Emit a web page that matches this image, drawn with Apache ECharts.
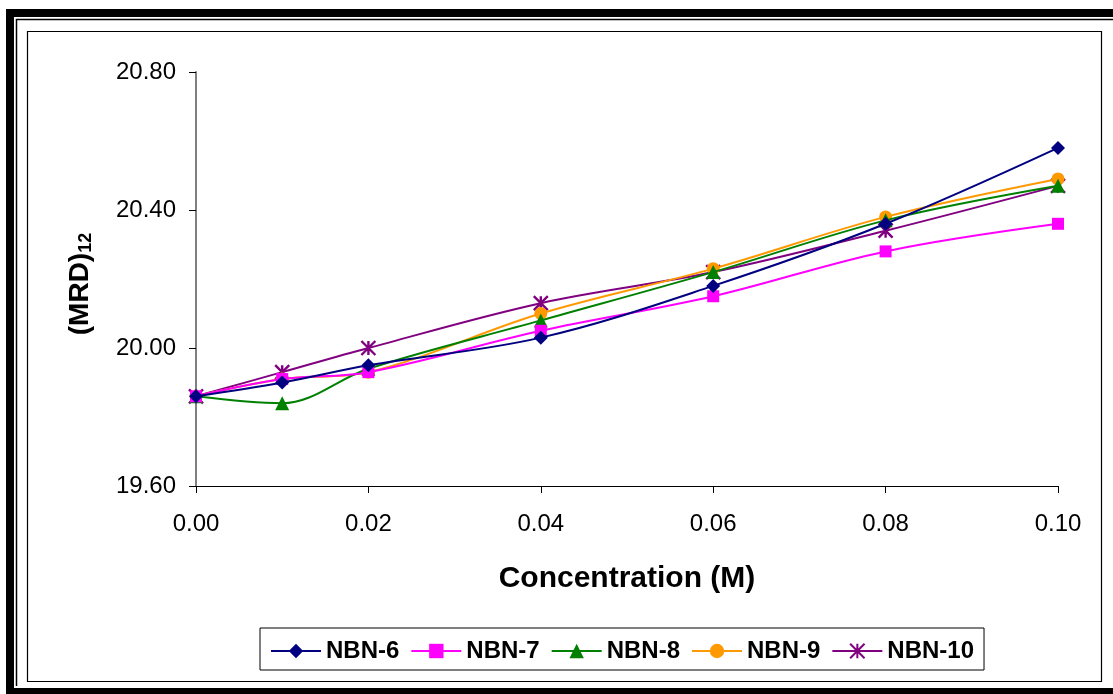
<!DOCTYPE html>
<html>
<head>
<meta charset="utf-8">
<script src="https://cdn.jsdelivr.net/npm/echarts@6/dist/echarts.min.js"></script>
<style>
  html, body { margin: 0; padding: 0; background: #fff; }
  #chart { width: 1113px; height: 694px; }
</style>
</head>
<body>
<div id="chart"></div>
<script>
// Concentration (M) on the x axis
const concentration = [0.00, 0.01, 0.02, 0.04, 0.06, 0.08, 0.10];

// (MRD)12 values for each compound
const nbn6  = [19.86, 19.90, 19.95, 20.03, 20.18, 20.36, 20.58];
const nbn7  = [19.86, 19.91, 19.93, 20.05, 20.15, 20.28, 20.36];
const nbn8  = [19.86, 19.84, 19.94, 20.08, 20.22, 20.37, 20.47];
const nbn9  = [19.86, 19.91, 19.93, 20.10, 20.23, 20.38, 20.49];
const nbn10 = [19.86, 19.93, 20.00, 20.13, 20.22, 20.34, 20.47];

const seriesNames = ['NBN-6', 'NBN-7', 'NBN-8', 'NBN-9', 'NBN-10'];
const seriesValues = [nbn6, nbn7, nbn8, nbn9, nbn10];
const seriesColors = ['#000080', '#FF00FF', '#008000', '#FF9900', '#800080'];

// Asterisk marker drawn as stroked strokes (vertical bar plus an X)
const asterisk = 'path://M5,0 L5,10 M0,0 L10,10 M10,0 L0,10';
const symbols = ['diamond', 'rect', 'triangle', 'circle', asterisk];
const symbolSizes = [14, 12, 14, 13, 14];

const FONT = '"Liberation Sans", Arial, sans-serif';

const series = seriesNames.map((name, i) => {
  const isStar = i === 4;
  return {
    name: name,
    type: 'line',
    smooth: 0.35,
    data: concentration.map((c, k) => [c, seriesValues[i][k]]),
    symbol: symbols[i],
    symbolSize: symbolSizes[i],
    showAllSymbol: true,
    lineStyle: { color: seriesColors[i], width: 2 },
    itemStyle: isStar
      ? { color: seriesColors[i], borderColor: seriesColors[i], borderWidth: 2.4 }
      : { color: seriesColors[i], borderWidth: 0 },
    emphasis: { disabled: true },
    z: 10 - i
  };
});

const chart = echarts.init(document.getElementById('chart'), null, { renderer: 'canvas' });

chart.setOption({
  animation: false,
  backgroundColor: '#ffffff',
  textStyle: { fontFamily: FONT },
  graphic: [
    // heavy black outer frame pieces
    { type: 'rect', shape: { x: 6, y: 9, width: 1107, height: 8 }, style: { fill: '#000' }, silent: true },
    { type: 'rect', shape: { x: 6, y: 9, width: 8, height: 685 }, style: { fill: '#000' }, silent: true },
    { type: 'rect', shape: { x: 6, y: 688, width: 1107, height: 6 }, style: { fill: '#000' }, silent: true },
    // thin inner rule of the outer frame
    { type: 'polyline', shape: { points: [[1113, 19.5], [16.5, 19.5], [16.5, 686]] }, style: { stroke: '#000', lineWidth: 1.5, fill: null }, silent: true },
    // chart area border
    { type: 'rect', shape: { x: 27.5, y: 31.5, width: 1074, height: 650 }, style: { stroke: '#000', lineWidth: 1.2, fill: null }, silent: true }
  ],
  legend: {
    data: seriesNames,
    left: 260,
    top: 628,
    width: 727,
    height: 45,
    padding: [11, 10, 7, 10],
    itemGap: 11,
    itemWidth: 50,
    itemHeight: 18,
    borderColor: '#000',
    borderWidth: 1,
    textStyle: { fontFamily: FONT, fontSize: 24, fontWeight: 'bold', color: '#000', padding: [0, 0, 0, 0] },
    selectedMode: false
  },
  grid: {
    left: 196,
    right: 55,
    top: 72,
    bottom: 208,
    containLabel: false
  },
  xAxis: {
    type: 'value',
    min: 0,
    max: 0.10,
    interval: 0.02,
    name: 'Concentration (M)',
    nameLocation: 'middle',
    nameGap: 78,
    nameTextStyle: { fontFamily: FONT, fontSize: 30, fontWeight: 'bold', color: '#000' },
    axisLine: { show: true, lineStyle: { color: '#000', width: 1 } },
    axisTick: { show: true, length: 7, inside: false, lineStyle: { color: '#000' } },
    axisLabel: {
      margin: 26,
      fontFamily: FONT,
      fontSize: 24,
      color: '#000',
      formatter: v => v.toFixed(2)
    },
    splitLine: { show: false }
  },
  yAxis: {
    type: 'value',
    min: 19.60,
    max: 20.80,
    interval: 0.40,
    name: '{a|(MRD)}{b|12}',
    nameLocation: 'middle',
    nameRotate: 90,
    nameGap: 101,
    nameTextStyle: {
      fontFamily: FONT,
      color: '#000',
      padding: [0, 10, 0, 0],
      rich: {
        a: { fontFamily: FONT, fontSize: 28, fontWeight: 'bold', color: '#000' },
        b: { fontFamily: FONT, fontSize: 18, fontWeight: 'bold', color: '#000', padding: [12, 0, 0, 0] }
      }
    },
    axisLine: { show: true, onZero: false, lineStyle: { color: '#808080', width: 2 } },
    axisTick: { show: true, length: 7, inside: false, lineStyle: { color: '#000' } },
    axisLabel: {
      margin: 20,
      fontFamily: FONT,
      fontSize: 24,
      color: '#000',
      formatter: v => v.toFixed(2)
    },
    splitLine: { show: false }
  },
  series: series
});
</script>
</body>
</html>
